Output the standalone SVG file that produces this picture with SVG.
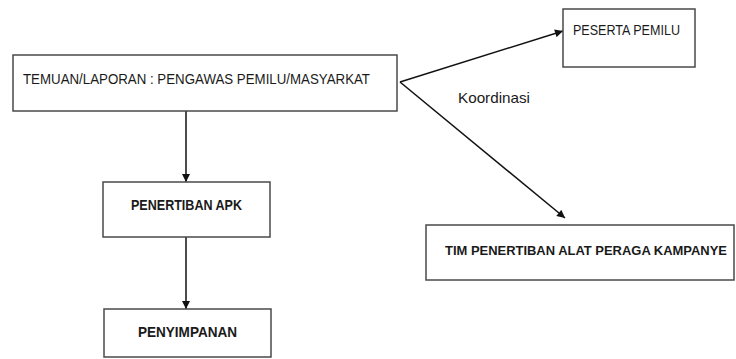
<svg xmlns="http://www.w3.org/2000/svg" width="736" height="359" viewBox="0 0 736 359">
<defs>
<style>
.box{fill:#fff;stroke:#4a4a4a;stroke-width:1.5}
.t{font-family:"Liberation Sans",Arial,sans-serif;font-size:15px;fill:#1a1a1a}
.b{font-weight:bold}
.c{fill:none;stroke:#111;stroke-width:1.5}
</style>
<marker id="ah" viewBox="0 0 10 10" refX="10" refY="5" markerWidth="9" markerHeight="8" markerUnits="userSpaceOnUse" orient="auto"><path d="M0,0 L10,5 L0,10 z" fill="#111"/></marker>
</defs>
<rect width="736" height="359" fill="#fff"/>
<g id="connectors">
<line class="c" x1="400" y1="82" x2="563" y2="31" marker-end="url(#ah)"/>
<line class="c" x1="400" y1="82" x2="565" y2="218" marker-end="url(#ah)"/>
<line class="c" x1="186" y1="111" x2="186" y2="182" marker-end="url(#ah)"/>
<line class="c" x1="186" y1="237" x2="186" y2="309" marker-end="url(#ah)"/>
</g>
<g id="temuan">
<rect class="box" x="13" y="55" width="384" height="56"/>
<text class="t" x="23" y="84" textLength="347" lengthAdjust="spacingAndGlyphs">TEMUAN/LAPORAN : PENGAWAS PEMILU/MASYARKAT</text>
</g>
<g id="peserta">
<rect class="box" x="563" y="9" width="132" height="58"/>
<text class="t" x="573" y="35" textLength="107" lengthAdjust="spacingAndGlyphs">PESERTA PEMILU</text>
</g>
<g id="koordinasi">
<text class="t" x="458" y="103" textLength="72" lengthAdjust="spacingAndGlyphs">Koordinasi</text>
</g>
<g id="tim">
<rect class="box" x="426" y="225" width="308" height="55"/>
<text class="t b" x="445" y="255" style="font-size:13px" textLength="282" lengthAdjust="spacingAndGlyphs">TIM PENERTIBAN ALAT PERAGA KAMPANYE</text>
</g>
<g id="penertiban">
<rect class="box" x="103" y="182" width="167" height="55"/>
<text class="t b" x="131" y="210" textLength="111" lengthAdjust="spacingAndGlyphs">PENERTIBAN APK</text>
</g>
<g id="penyimpanan">
<rect class="box" x="104" y="309" width="167" height="48"/>
<text class="t b" x="138" y="337" textLength="99" lengthAdjust="spacingAndGlyphs">PENYIMPANAN</text>
</g>
</svg>
